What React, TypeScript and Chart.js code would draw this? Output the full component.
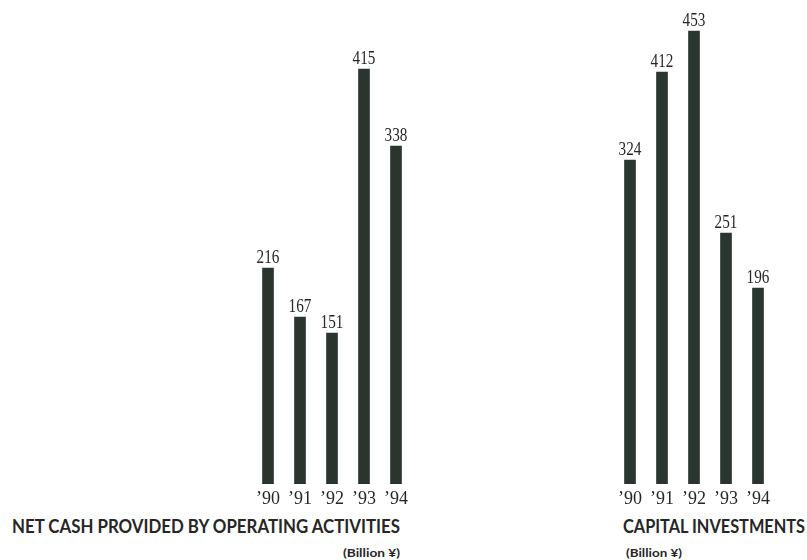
import React, { useEffect, useLayoutEffect, useRef } from "react";
import { Chart, registerables } from "chart.js";

Chart.register(...registerables);

const years = ["\u201990", "\u201991", "\u201992", "\u201993", "\u201994"];
const netCashValues = [216, 167, 151, 415, 338];
const capitalInvestmentValues = [324, 412, 453, 251, 196];
const netCashTitle = "NET CASH PROVIDED BY OPERATING ACTIVITIES";
const capitalTitle = "CAPITAL INVESTMENTS";
const unitLabel = "(Billion \u00A5)";

const BAR_COLOR = "#2b3530";
const TEXT_COLOR = "#262626";

const valueLabelPlugin = {
  id: "valueLabels",
  afterDatasetsDraw(chart: any) {
    const ctx = chart.ctx;
    const meta = chart.getDatasetMeta(0);
    const data = chart.data.datasets[0].data as number[];
    ctx.save();
    ctx.fillStyle = TEXT_COLOR;
    ctx.font = '19px "Liberation Serif"';
    ctx.textAlign = "center";
    ctx.textBaseline = "alphabetic";
    meta.data.forEach((bar: any, i: number) => {
      ctx.save();
      ctx.translate(bar.x, bar.y - 5);
      ctx.scale(0.8, 1);
      ctx.fillText(String(data[i]), 0, 0);
      ctx.restore();
    });
    ctx.restore();
  },
};

function BarPanel(props: {
  values: number[];
  left: number;
  width: number;
  padLeft: number;
  padRight: number;
}) {
  const ref = useRef<HTMLCanvasElement | null>(null);
  useEffect(() => {
    if (!ref.current) return;
    const chart = new Chart(ref.current, {
      type: "bar",
      data: {
        labels: years,
        datasets: [
          {
            data: props.values,
            backgroundColor: BAR_COLOR,
            borderWidth: 0,
            barThickness: 11,
          },
        ],
      },
      options: {
        animation: false,
        responsive: false,
        maintainAspectRatio: false,
        layout: {
          padding: { top: 14, left: props.padLeft, right: props.padRight, bottom: 0 },
        },
        plugins: {
          legend: { display: false },
          tooltip: { enabled: false },
          title: { display: false },
        },
        scales: {
          x: {
            grid: { display: false, drawTicks: false },
            border: { display: false },
            ticks: {
              color: TEXT_COLOR,
              font: { family: '"Liberation Serif"', size: 18 },
              padding: 4,
              maxRotation: 0,
            },
            afterFit: (axis: any) => {
              axis.height = 30;
            },
          },
          y: {
            display: false,
            min: 0,
            max: 470,
          },
        },
      },
      plugins: [valueLabelPlugin],
    });
    return () => chart.destroy();
  }, []);
  return (
    <canvas
      ref={ref}
      width={props.width}
      height={514}
      style={{
        position: "absolute",
        left: props.left,
        top: 0,
        width: props.width,
        height: 514,
      }}
    />
  );
}

function FitText(props: {
  text: string;
  left: number;
  top: number;
  size: number;
  targetWidth: number;
}) {
  const ref = useRef<HTMLSpanElement | null>(null);
  useLayoutEffect(() => {
    const el = ref.current;
    if (!el) return;
    const w = el.getBoundingClientRect().width;
    if (w > 0) el.style.transform = `scaleX(${props.targetWidth / w})`;
  }, []);
  return (
    <span
      ref={ref}
      style={{
        position: "absolute",
        left: props.left,
        top: props.top,
        fontFamily: "Lato, 'Liberation Sans', sans-serif",
        fontWeight: 700,
        fontSize: props.size,
        lineHeight: 1,
        whiteSpace: "nowrap",
        color: TEXT_COLOR,
        transformOrigin: "0 0",
        display: "inline-block",
      }}
    >
      {props.text}
    </span>
  );
}

export default function App() {
  return (
    <div
      style={{
        position: "absolute",
        left: 0,
        top: 0,
        width: 807,
        height: 560,
        background: "#ffffff",
        overflow: "hidden",
      }}
    >
      <BarPanel values={netCashValues} left={0} width={420} padLeft={252} padRight={8} />
      <BarPanel values={capitalInvestmentValues} left={420} width={387} padLeft={194} padRight={33} />
      <FitText text={netCashTitle} left={12} top={516} size={19} targetWidth={388} />
      <FitText text={capitalTitle} left={623} top={516} size={19} targetWidth={182} />
      <FitText text={unitLabel} left={343} top={547} size={12} targetWidth={57} />
      <FitText text={unitLabel} left={626} top={547} size={12} targetWidth={56} />
    </div>
  );
}
